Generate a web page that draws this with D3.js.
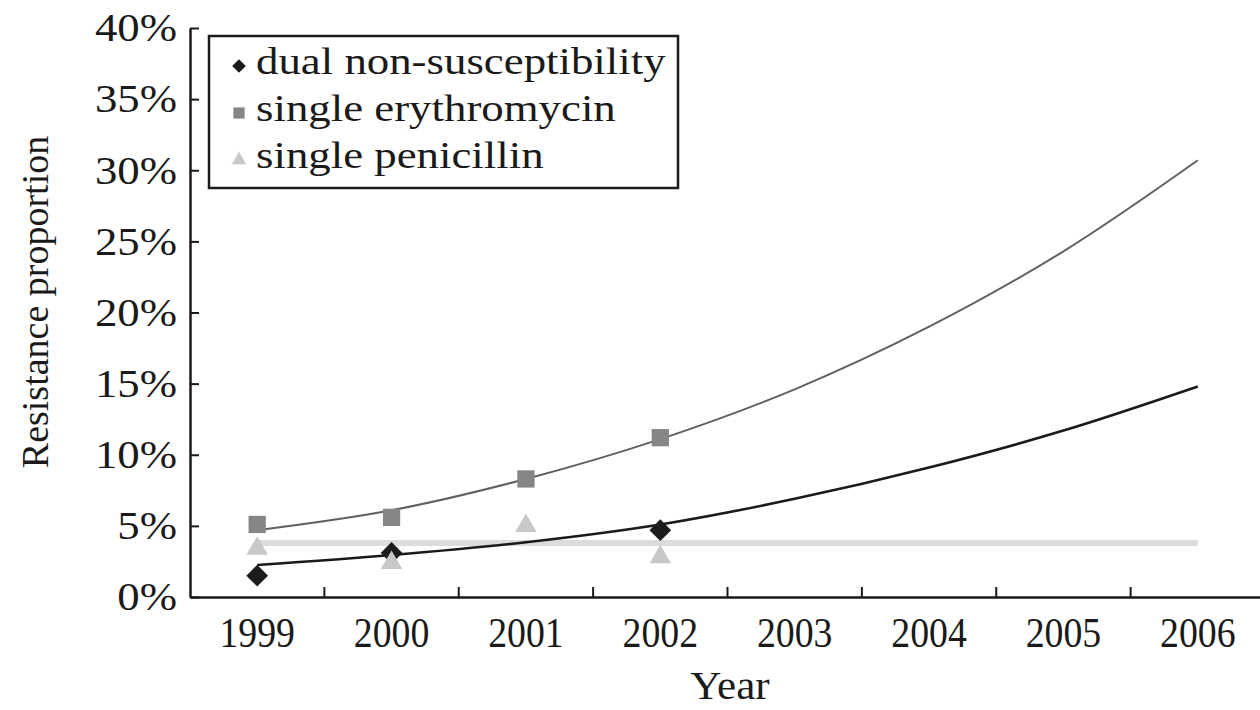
<!DOCTYPE html>
<html>
<head>
<meta charset="utf-8">
<script src="https://cdn.jsdelivr.net/npm/d3@7"></script>
<style>
  html, body { margin: 0; padding: 0; background: #fff; }
  svg { display: block; }
  text { font-family: "Liberation Serif", "DejaVu Serif", serif; fill: #1a1a1a; }
</style>
</head>
<body>
<svg id="chart" width="1260" height="710"></svg>
<script>
// Years on the category axis
const years = ["1999", "2000", "2001", "2002", "2003", "2004", "2005", "2006"];

// Observed proportions (%), surveillance years 1999-2002
const dualObserved = [1.5, 3.1, null, 4.7];
const erythroObserved = [5.1, 5.6, 8.3, 11.2];
const penicillinObserved = [3.4, 2.4, 5.0, 2.8];

// Projected trend (%), 1999-2006
const dualTrend = [2.25, 2.95, 3.85, 5.1, 6.9, 9.1, 11.7, 14.8];
const erythroTrend = [4.7, 6.1, 8.3, 11.1, 14.6, 19.0, 24.3, 30.7];
const penicillinTrend = [3.8, 3.8, 3.8, 3.8, 3.8, 3.8, 3.8, 3.8];

// Y axis ticks (%)
const yTicks = [0, 5, 10, 15, 20, 25, 30, 35, 40];

const seriesNames = ["dual non-susceptibility", "single erythromycin", "single penicillin"];

const svg = d3.select("#chart");

const x = d3.scaleBand().domain(years).range([190, 1265]).paddingInner(0).paddingOuter(0);
const y = d3.scaleLinear().domain([0, 40]).range([597, 28]);
const cx = d => x(d) + x.bandwidth() / 2;

const col = { dual: "#1c1c1c", ery: "#868686", pen: "#c8c8c8" };

// Axes
const yAxis = d3.axisLeft(y)
  .tickValues(yTicks)
  .tickFormat(d => d + "%")
  .tickSizeInner(-9)
  .tickSizeOuter(0)
  .tickPadding(13);

const gy = svg.append("g").attr("transform", "translate(190,0)").call(yAxis);
gy.select(".domain").attr("stroke", "#1a1a1a").attr("stroke-width", 2.5);
gy.selectAll(".tick line").attr("stroke", "#1a1a1a").attr("stroke-width", 2);
const ySx = 1.12;
gy.selectAll(".tick text")
  .attr("font-size", 40).attr("fill", "#1a1a1a")
  .style("font-family", "'Liberation Serif', serif")
  .attr("x", -13 / ySx)
  .attr("transform", `scale(${ySx},1)`);

const xAxis = d3.axisBottom(x).tickSizeInner(-10).tickSizeOuter(0).tickPadding(20);
const gx = svg.append("g").attr("transform", "translate(0,597)").call(xAxis);
gx.select(".domain").attr("stroke", "#1a1a1a").attr("stroke-width", 2.5);
// tick marks sit on the boundaries between categories
gx.selectAll(".tick line").attr("x1", x.bandwidth() / 2).attr("x2", x.bandwidth() / 2)
  .attr("stroke", "#1a1a1a").attr("stroke-width", 2);
gx.selectAll(".tick text")
  .attr("font-size", 42).attr("fill", "#1a1a1a")
  .style("font-family", "'Liberation Serif', serif")
  .attr("transform", "scale(0.9,1)");

// Axis titles
svg.append("text")
  .attr("transform", "translate(48,302) rotate(-90)")
  .attr("text-anchor", "middle")
  .attr("font-size", 38)
  .text("Resistance proportion");

svg.append("text")
  .attr("transform", "translate(730,699) scale(1.05,1)")
  .attr("text-anchor", "middle")
  .attr("font-size", 41)
  .text("Year");

// Trend lines
const line = d3.line()
  .defined(d => d.v != null)
  .x(d => cx(d.year))
  .y(d => y(d.v))
  .curve(d3.curveCatmullRom.alpha(0.5));

const pack = arr => arr.map((v, i) => ({ year: years[i], v }));

svg.append("path").datum(pack(penicillinTrend))
  .attr("d", line).attr("fill", "none")
  .attr("stroke", "#dcdcdc").attr("stroke-width", 6);

svg.append("path").datum(pack(erythroTrend))
  .attr("d", line).attr("fill", "none")
  .attr("stroke", "#606060").attr("stroke-width", 2);

svg.append("path").datum(pack(dualTrend))
  .attr("d", line).attr("fill", "none")
  .attr("stroke", "#1a1a1a").attr("stroke-width", 2.6);

// Markers
const sym = {
  dual: d3.symbol().type(d3.symbolDiamond2).size(300),
  ery: d3.symbol().type(d3.symbolSquare2).size(380),
  pen: d3.symbol().type(d3.symbolTriangle2).size(330)
};

function markers(data, key) {
  svg.append("g").selectAll("path")
    .data(pack(data).filter(d => d.v != null))
    .join("path")
    .attr("transform", d => `translate(${cx(d.year)},${y(d.v)})`)
    .attr("d", sym[key])
    .attr("fill", col[key]);
}
markers(dualObserved, "dual");
markers(erythroObserved, "ery");
markers(penicillinObserved, "pen");

// Legend
const lg = svg.append("g").attr("transform", "translate(209,36)");
lg.append("rect").attr("width", 469).attr("height", 152)
  .attr("fill", "#fff").attr("stroke", "#1a1a1a").attr("stroke-width", 2.5);

const legendItems = [
  { name: seriesNames[0], key: "dual", size: 120 },
  { name: seriesNames[1], key: "ery", size: 160 },
  { name: seriesNames[2], key: "pen", size: 150 }
];
const lgSx = 1.18;
const lgRow = lg.selectAll("g.item").data(legendItems).join("g")
  .attr("class", "item")
  .attr("transform", (d, i) => `translate(0,${38 + i * 47})`);
lgRow.append("path")
  .attr("transform", "translate(30,-8)")
  .attr("d", d => d3.symbol().type(
    d.key === "dual" ? d3.symbolDiamond2 : d.key === "ery" ? d3.symbolSquare2 : d3.symbolTriangle2
  ).size(d.size)())
  .attr("fill", d => col[d.key]);
lgRow.append("text")
  .attr("x", 47 / lgSx).attr("y", 0)
  .attr("transform", `scale(${lgSx},1)`)
  .attr("font-size", 38)
  .text(d => d.name);
</script>
</body>
</html>
